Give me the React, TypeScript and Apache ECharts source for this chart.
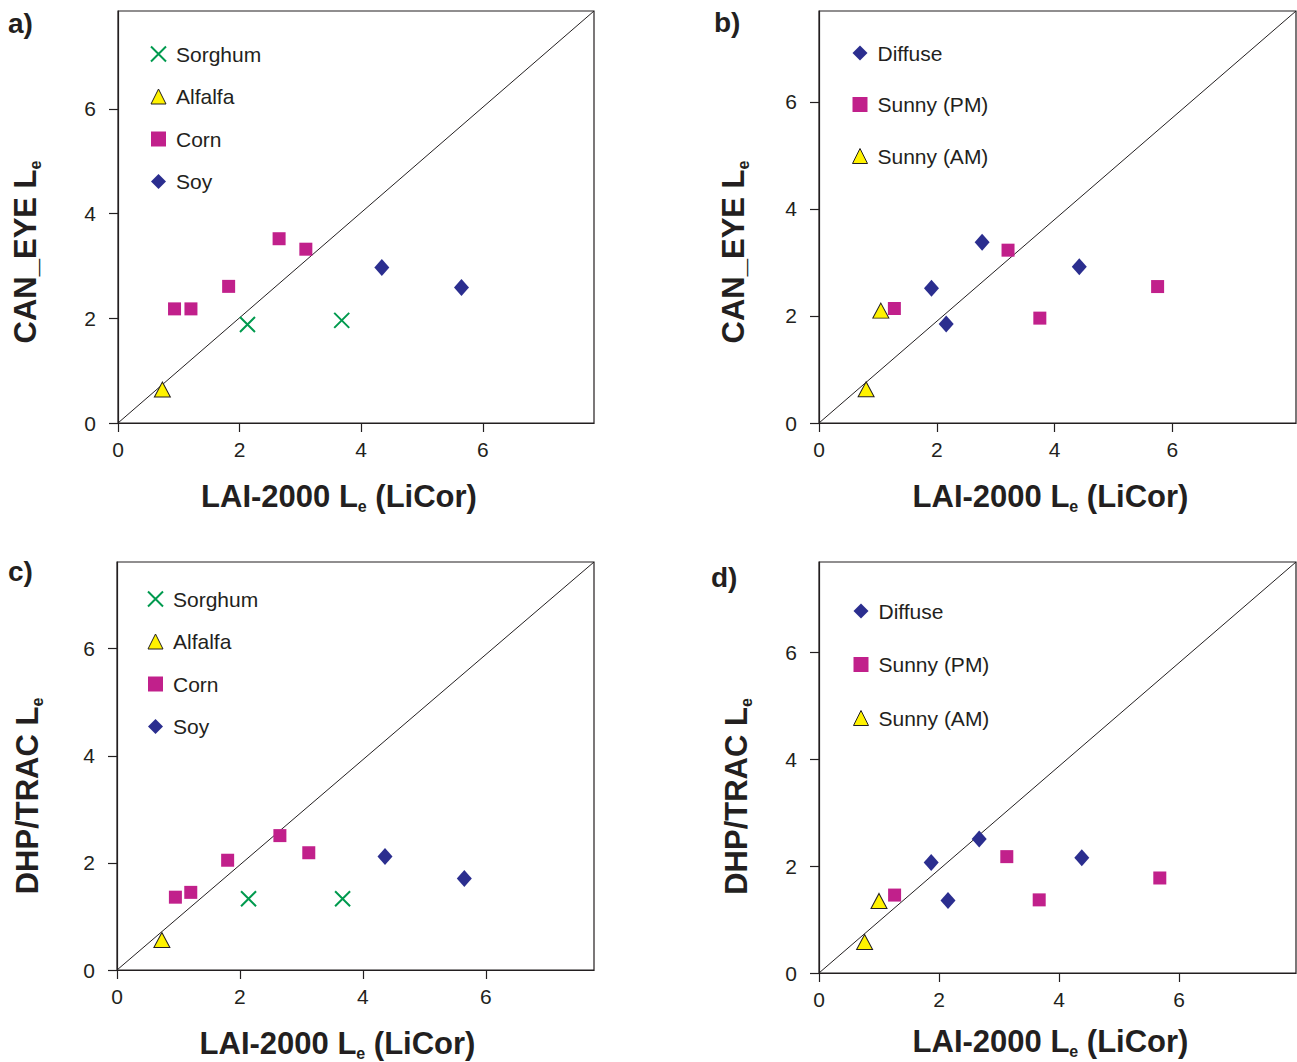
import React, { useEffect, useRef } from "react";
import * as echarts from "echarts";

// ---------- data ----------
const tickValues = [0, 2, 4, 6];

// Panel a: CAN_EYE vs LAI-2000, by crop
const aSorghum = [[2.13, 1.88], [3.68, 1.96]];
const aAlfalfa = [[0.73, 0.64]];
const aCorn = [[0.93, 2.18], [1.2, 2.18], [1.82, 2.61], [2.65, 3.52], [3.09, 3.32]];
const aSoy = [[4.34, 2.97], [5.65, 2.59]];

// Panel b: CAN_EYE vs LAI-2000, by illumination
const bDiffuse = [[1.91, 2.52], [2.16, 1.85], [2.77, 3.38], [4.42, 2.92]];
const bSunnyPM = [[1.28, 2.14], [3.21, 3.23], [3.75, 1.96], [5.75, 2.55]];
const bSunnyAM = [[1.05, 2.1], [0.8, 0.63]];

// Panel c: DHP/TRAC vs LAI-2000, by crop
const cSorghum = [[2.14, 1.33], [3.67, 1.33]];
const cAlfalfa = [[0.73, 0.56]];
const cCorn = [[0.95, 1.36], [1.2, 1.45], [1.8, 2.05], [2.65, 2.51], [3.12, 2.19]];
const cSoy = [[4.36, 2.12], [5.65, 1.71]];

// Panel d: DHP/TRAC vs LAI-2000, by illumination
const dDiffuse = [[1.87, 2.07], [2.15, 1.36], [2.67, 2.51], [4.38, 2.16]];
const dSunnyPM = [[1.26, 1.46], [3.13, 2.18], [3.67, 1.37], [5.68, 1.78]];
const dSunnyAM = [[1.0, 1.35], [0.76, 0.58]];

// axis extents [xMax, yMax]
const extA = [7.83, 7.87];
const extB = [8.1, 7.7];
const extC = [7.76, 7.62];
const extD = [7.95, 7.7];

const cropNames = ["Sorghum", "Alfalfa", "Corn", "Soy"];
const lightNames = ["Diffuse", "Sunny (PM)", "Sunny (AM)"];
const xTitle = "LAI-2000 L";
const yTitleTop = "CAN_EYE L";
const yTitleBottom = "DHP/TRAC L";
const panelLetters = ["a)", "b)", "c)", "d)"];

// ---------- style ----------
const FONT = "Liberation Sans, Arial, Helvetica, sans-serif";
const INK = "#231f20";
const GREEN = "#009a4e";
const YELLOW = "#fff200";
const MAGENTA = "#c1208b";
const NAVY = "#2b2e8f";
const XPATH = "path://M0,0L10,10M10,0L0,10";

const symbolFor: Record<string, any> = {
  Sorghum: { symbol: XPATH, symbolSize: 15, itemStyle: { color: GREEN, borderColor: GREEN, borderWidth: 2, opacity: 1 } },
  Alfalfa: { symbol: "triangle", symbolSize: [16, 15], itemStyle: { color: YELLOW, borderColor: INK, borderWidth: 1, opacity: 1 } },
  Corn: { symbol: "rect", symbolSize: 13, itemStyle: { color: MAGENTA, opacity: 1 } },
  Soy: { symbol: "diamond", symbolSize: [15, 17], itemStyle: { color: NAVY, opacity: 1 } },
  Diffuse: { symbol: "diamond", symbolSize: [15, 17], itemStyle: { color: NAVY, opacity: 1 } },
  "Sunny (PM)": { symbol: "rect", symbolSize: 13, itemStyle: { color: MAGENTA, opacity: 1 } },
  "Sunny (AM)": { symbol: "triangle", symbolSize: [16, 15], itemStyle: { color: YELLOW, borderColor: INK, borderWidth: 1, opacity: 1 } },
};

const rich = {
  a: { fontSize: 31, fontWeight: "bold", fontFamily: FONT, color: INK, lineHeight: 36 },
  s: { fontSize: 16, fontWeight: "bold", fontFamily: FONT, color: INK, lineHeight: 18, verticalAlign: "bottom" },
};

type PanelCfg = {
  grid: { left: number; top: number; width: number; height: number };
  ext: number[];
  yTitle: string;
  xNameGap: number;
  xShift: number;
  yNameGap: number;
  yShift: number;
  series: { name: string; data: number[][] }[];
  legend: { left: number; top: number; gap: number; names: string[] };
};

const panels: PanelCfg[] = [
  {
    grid: { left: 118, top: 11, width: 476, height: 412 },
    ext: extA, yTitle: yTitleTop, xNameGap: 55, xShift: 34, yNameGap: 75, yShift: 70,
    series: [
      { name: "Sorghum", data: aSorghum },
      { name: "Alfalfa", data: aAlfalfa },
      { name: "Corn", data: aCorn },
      { name: "Soy", data: aSoy },
    ],
    legend: { left: 150, top: 43, gap: 20.5, names: cropNames },
  },
  {
    grid: { left: 819, top: 11, width: 477, height: 412 },
    ext: extB, yTitle: yTitleTop, xNameGap: 55, xShift: 14, yNameGap: 68, yShift: 70,
    series: [
      { name: "Diffuse", data: bDiffuse },
      { name: "Sunny (PM)", data: bSunnyPM },
      { name: "Sunny (AM)", data: bSunnyAM },
    ],
    legend: { left: 852, top: 42, gap: 29.5, names: lightNames },
  },
  {
    grid: { left: 117, top: 562, width: 477, height: 411 },
    ext: extC, yTitle: yTitleBottom, xNameGap: 55, xShift: 36, yNameGap: 72, yShift: 60,
    series: [
      { name: "Sorghum", data: cSorghum },
      { name: "Alfalfa", data: cAlfalfa },
      { name: "Corn", data: cCorn },
      { name: "Soy", data: cSoy },
    ],
    legend: { left: 147, top: 588, gap: 20.5, names: cropNames },
  },
  {
    grid: { left: 819, top: 562, width: 477, height: 411 },
    ext: extD, yTitle: yTitleBottom, xNameGap: 50, xShift: 14, yNameGap: 65, yShift: 58,
    series: [
      { name: "Diffuse", data: dDiffuse },
      { name: "Sunny (PM)", data: dSunnyPM },
      { name: "Sunny (AM)", data: dSunnyAM },
    ],
    legend: { left: 853, top: 600, gap: 31.5, names: lightNames },
  },
];

const letterPos = [
  [8, 9],
  [714, 8],
  [8, 557],
  [711, 563],
];

function buildOption() {
  const grid: any[] = [];
  const xAxis: any[] = [];
  const yAxis: any[] = [];
  const series: any[] = [];
  const legend: any[] = [];

  panels.forEach((p, i) => {
    grid.push({ ...p.grid, show: true, borderColor: INK, borderWidth: 1.2, backgroundColor: "transparent" });
    const common = {
      type: "value",
      gridIndex: i,
      min: 0,
      splitLine: { show: false },
      axisLine: { show: true, onZero: false, lineStyle: { color: INK, width: 1.2 } },
      axisTick: { show: true, inside: false, length: 9, customValues: tickValues, lineStyle: { color: INK, width: 1.2 } },
      nameLocation: "middle",
    };
    xAxis.push({
      ...common,
      max: p.ext[0],
      axisLabel: { customValues: tickValues, fontSize: 21, color: INK, fontFamily: FONT, margin: 16 },
      name: `{a|${xTitle}}{s|e}{a| (LiCor)}`,
      nameGap: p.xNameGap,
      nameTextStyle: { rich, padding: [0, p.xShift, 0, 0] },
    });
    yAxis.push({
      ...common,
      max: p.ext[1],
      axisLabel: { customValues: tickValues, fontSize: 21, color: INK, fontFamily: FONT, margin: 22 },
      name: `{a|${p.yTitle}}{s|e}`,
      nameGap: p.yNameGap,
      nameTextStyle: { rich, padding: [0, p.yShift, 0, 0] },
    });
    series.push({
      type: "line",
      xAxisIndex: i,
      yAxisIndex: i,
      data: [[0, 0], [p.ext[0], p.ext[1]]],
      symbol: "none",
      silent: true,
      z: 1,
      lineStyle: { color: INK, width: 1 },
    });
    p.series.forEach((s) => {
      const st = symbolFor[s.name];
      series.push({
        type: "scatter",
        name: s.name,
        xAxisIndex: i,
        yAxisIndex: i,
        data: s.data,
        symbol: st.symbol,
        symbolSize: st.symbolSize,
        itemStyle: st.itemStyle,
        emphasis: { disabled: true },
        z: 3,
      });
    });
    legend.push({
      orient: "vertical",
      left: p.legend.left,
      top: p.legend.top,
      padding: 0,
      itemGap: p.legend.gap,
      itemWidth: 15,
      itemHeight: 15,
      selectedMode: false,
      textStyle: { fontSize: 21, color: INK, fontFamily: FONT, lineHeight: 22, padding: [0, 0, 0, 5] },
      data: p.legend.names.map((n) =>
        n === "Alfalfa" || n === "Sunny (AM)"
          ? { name: n, itemStyle: { borderWidth: 1, borderColor: INK } }
          : { name: n }
      ),
    });
  });

  const graphic = panelLetters.map((t, i) => ({
    type: "text",
    left: letterPos[i][0],
    top: letterPos[i][1],
    style: { text: t, font: `bold 28px ${FONT}`, fill: INK },
  }));

  return {
    animation: false,
    backgroundColor: "#ffffff",
    grid,
    xAxis,
    yAxis,
    series,
    legend,
    graphic,
  };
}

export default function App() {
  const ref = useRef<HTMLDivElement>(null);
  useEffect(() => {
    if (!ref.current) return;
    const chart = echarts.init(ref.current, undefined, { renderer: "svg" });
    chart.setOption(buildOption() as any);
    return () => chart.dispose();
  }, []);
  return (
    <div
      ref={ref}
      style={{ position: "absolute", left: 0, top: 0, width: 1297, height: 1062, background: "#fff" }}
    />
  );
}
